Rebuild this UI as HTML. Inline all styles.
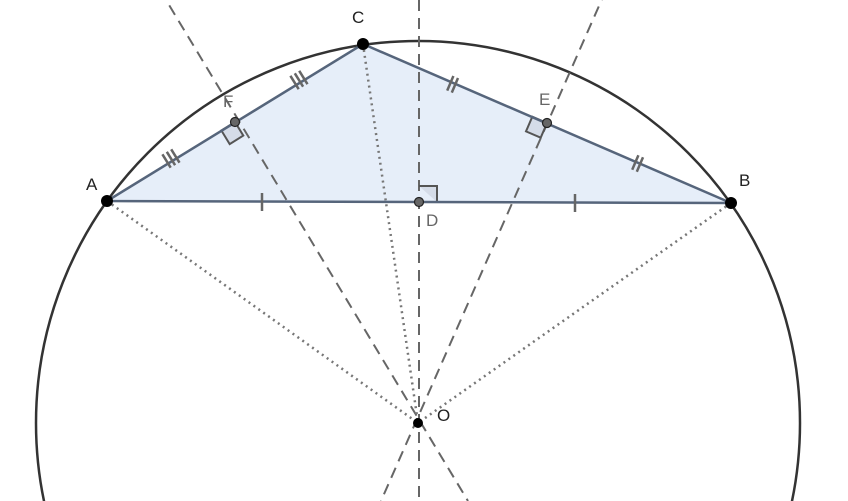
<!DOCTYPE html>
<html><head><meta charset="utf-8"><style>html,body{margin:0;padding:0;background:#fff;width:848px;height:501px;overflow:hidden}svg{display:block}</style></head>
<body>
<svg width="848" height="501" viewBox="0 0 848 501" xmlns="http://www.w3.org/2000/svg" font-family="Liberation Sans, sans-serif">
<polygon points="107,201 731,203 363,44" fill="#e6eef9"/>
<circle cx="418" cy="423" r="382" fill="none" stroke="#333" stroke-width="2.5"/>
<g stroke="#666" stroke-width="2" stroke-dasharray="11,7" fill="none">
<line x1="419" y1="0" x2="419" y2="501"/>
<line x1="160" y1="-10" x2="468" y2="501"/>
<line x1="606" y1="-10" x2="381" y2="501"/>
</g>
<g stroke="#777" stroke-width="2.5" stroke-dasharray="2,4" fill="none">
<line x1="107" y1="201" x2="418" y2="423"/>
<line x1="731" y1="203" x2="418" y2="423"/>
<line x1="363" y1="44" x2="418" y2="423"/>
</g>
<g fill="#d5dce8" stroke="#555" stroke-width="2">
<polyline points="419,186 437,186 437,202" />
<polygon points="235,122 243.3,135.6 229.7,144.1 221.4,130.5"/>
<polygon points="547,123 540.7,137.7 526,131.4 532.3,116.7"/>
</g>
<polygon points="107,201 731,203 363,44" fill="none" stroke="#56657b" stroke-width="2.5"/>
<g stroke="#666" stroke-width="2.5">
<line x1="262" y1="193" x2="262" y2="211"/>
<line x1="575" y1="194" x2="575" y2="212"/>
<line x1="162.4" y1="154.3" x2="170.7" y2="167.7"/>
<line x1="166.8" y1="151.8" x2="175.1" y2="165.2"/>
<line x1="171.2" y1="149.3" x2="179.5" y2="162.7"/>
<line x1="290.4" y1="75.8" x2="298.7" y2="89.2"/>
<line x1="294.8" y1="73.3" x2="303.1" y2="86.7"/>
<line x1="299.2" y1="70.8" x2="307.5" y2="84.2"/>
<line x1="453.4" y1="76.0" x2="447.2" y2="90.6"/>
<line x1="458.0" y1="78.0" x2="451.8" y2="92.6"/>
<line x1="638.4" y1="155.2" x2="632.2" y2="169.8"/>
<line x1="643.0" y1="157.2" x2="636.8" y2="171.8"/>
</g>
<g fill="#000">
<circle cx="107" cy="201" r="6"/>
<circle cx="731" cy="203" r="6"/>
<circle cx="363" cy="44" r="6"/>
<circle cx="418" cy="423" r="5"/>
</g>
<g fill="#666" stroke="#222" stroke-width="1.2">
<circle cx="419" cy="202" r="4.5"/>
<circle cx="235" cy="122" r="4.5"/>
<circle cx="547" cy="123" r="4.5"/>
</g>
<g font-size="17" fill="#222">
<text x="86" y="190">A</text>
<text x="739" y="186">B</text>
<text x="352" y="23">C</text>
<text x="437" y="421">O</text>
</g>
<g font-size="17" fill="#666">
<text x="426" y="226">D</text>
<text x="539" y="105">E</text>
<text x="223" y="107">F</text>
</g>
</svg>
</body></html>
